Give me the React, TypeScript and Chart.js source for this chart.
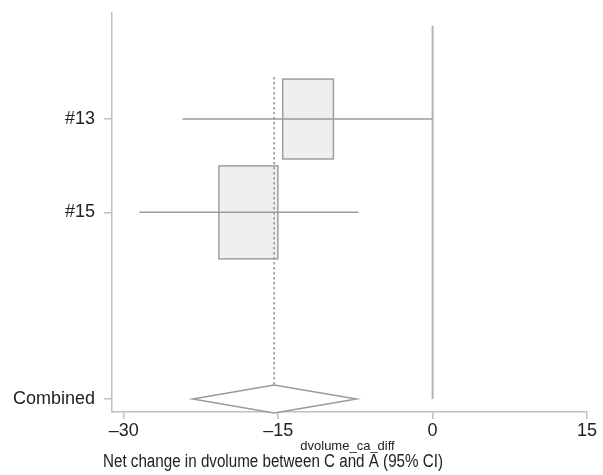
import React, { useEffect, useRef } from "react";
import { Chart, registerables } from "chart.js";

Chart.register(...registerables);

const studyLabels = ["#13", "#15"];
const estimates = [-12.1, -17.9];
const ciLower = [-24.3, -28.5];
const ciUpper = [0.0, -7.2];
const weights = [42.5, 57.5];
const combinedLabel = "Combined";
const combinedEstimate = -15.4;
const combinedLower = -23.3;
const combinedUpper = -7.4;
const xTickValues = [-30, -15, 0, 15];
const xAxisTitle = "dvolume_ca_diff";
const caption = "Net change in dvolume between C and A (95% CI)";

const FONT = "'Liberation Sans', Arial, Helvetica, sans-serif";

export default function App() {
  const ref = useRef<HTMLCanvasElement | null>(null);

  useEffect(() => {
    if (!ref.current) return;
    const studyRows = studyLabels.map((_, i) => i + 1);
    const combinedRow = studyLabels.length + 2;
    const rowLabels: Record<number, string> = {};
    studyRows.forEach((r, i) => (rowLabels[r] = studyLabels[i]));
    rowLabels[combinedRow] = combinedLabel;

    const forestPlugin = {
      id: "forest",
      afterDatasetsDraw(chart: any) {
        const { ctx } = chart;
        const xs = chart.scales.x;
        const ys = chart.scales.y;
        ctx.save();
        // zero line
        ctx.strokeStyle = "#b4b4b4";
        ctx.lineWidth = 2;
        ctx.beginPath();
        ctx.moveTo(xs.getPixelForValue(0), ys.getPixelForValue(0));
        ctx.lineTo(xs.getPixelForValue(0), ys.getPixelForValue(combinedRow));
        ctx.stroke();

        // boxes fill
        studyRows.forEach((r, i) => {
          const cx = xs.getPixelForValue(estimates[i]);
          const cy = ys.getPixelForValue(r);
          const w = 7.78 * Math.sqrt(weights[i]);
          const h = 12.26 * Math.sqrt(weights[i]);
          ctx.fillStyle = "#efefef";
          ctx.fillRect(cx - w / 2, cy - h / 2, w, h);
        });

        // dashed overall line
        const dx = xs.getPixelForValue(combinedEstimate);
        ctx.strokeStyle = "#858585";
        ctx.lineWidth = 1.3;
        ctx.setLineDash([2.5, 2.5]);
        ctx.beginPath();
        ctx.moveTo(dx, ys.getPixelForValue(0.55));
        ctx.lineTo(dx, ys.getPixelForValue(combinedRow) - 14);
        ctx.stroke();
        ctx.setLineDash([]);

        // CI lines
        ctx.strokeStyle = "#9a9a9a";
        ctx.lineWidth = 1.5;
        studyRows.forEach((r, i) => {
          const cy = ys.getPixelForValue(r);
          ctx.beginPath();
          ctx.moveTo(xs.getPixelForValue(ciLower[i]), cy);
          ctx.lineTo(xs.getPixelForValue(ciUpper[i]), cy);
          ctx.stroke();
        });

        // box borders
        ctx.strokeStyle = "#a0a0a0";
        ctx.lineWidth = 1.5;
        studyRows.forEach((r, i) => {
          const cx = xs.getPixelForValue(estimates[i]);
          const cy = ys.getPixelForValue(r);
          const w = 7.78 * Math.sqrt(weights[i]);
          const h = 12.26 * Math.sqrt(weights[i]);
          ctx.strokeRect(cx - w / 2, cy - h / 2, w, h);
        });

        // diamond
        const cy = ys.getPixelForValue(combinedRow);
        ctx.fillStyle = "#ffffff";
        ctx.strokeStyle = "#9a9a9a";
        ctx.lineWidth = 1.5;
        ctx.beginPath();
        ctx.moveTo(xs.getPixelForValue(combinedLower), cy);
        ctx.lineTo(dx, cy - 14);
        ctx.lineTo(xs.getPixelForValue(combinedUpper), cy);
        ctx.lineTo(dx, cy + 14);
        ctx.closePath();
        ctx.fill();
        ctx.stroke();
        ctx.restore();
      },
      afterDraw(chart: any) {
        const { ctx } = chart;
        const xs = chart.scales.x;
        ctx.save();
        ctx.fillStyle = "#222222";
        ctx.textAlign = "center";
        ctx.textBaseline = "alphabetic";
        ctx.font = `13px ${FONT}`;
        ctx.fillText(xAxisTitle, (xs.left + xs.right) / 2 - 2, 450);
        ctx.textAlign = "left";
        ctx.font = `18px ${FONT}`;
        ctx.fillText(caption, 103, 467, 340);
        ctx.restore();
      },
    };

    const chart = new Chart(ref.current, {
      type: "scatter",
      data: {
        datasets: [
          {
            data: studyRows.map((r, i) => ({ x: estimates[i], y: r })),
            pointRadius: 0,
            showLine: false,
          },
        ],
      },
      options: {
        animation: false,
        responsive: false,
        events: [],
        layout: { padding: { top: 13, right: 16, left: 0, bottom: 0 } },
        plugins: { legend: { display: false }, tooltip: { enabled: false } },
        scales: {
          x: {
            type: "linear",
            min: -31.15,
            max: 15,
            afterBuildTicks: (s: any) => {
              s.ticks = xTickValues.map((v) => ({ value: v }));
            },
            afterFit: (s: any) => {
              s.height = 63;
              s.paddingLeft = 0;
              s.paddingRight = 0;
            },
            ticks: {
              callback: (v: any) => (Number(v) < 0 ? "\u2013" + Math.abs(Number(v)) : String(v)),
              font: { size: 18, family: FONT },
              color: "#222222",
              padding: 1,
              maxRotation: 0,
              autoSkip: false,
            },
            grid: {
              drawOnChartArea: false,
              drawTicks: true,
              tickLength: 7,
              color: "#c0c0c0",
              lineWidth: 1.5,
            },
            border: { display: true, color: "#c0c0c0", width: 1.5 },
          },
          y: {
            type: "linear",
            reverse: true,
            min: -0.136,
            max: 4.139,
            afterBuildTicks: (s: any) => {
              s.ticks = Object.keys(rowLabels).map((k) => ({ value: Number(k) }));
            },
            afterFit: (s: any) => {
              s.width = 112;
              s.paddingTop = 0;
              s.paddingBottom = 0;
            },
            ticks: {
              callback: (v: any) => rowLabels[Number(v)] ?? "",
              font: { size: 18, family: FONT },
              color: "#222222",
              padding: 9,
              autoSkip: false,
            },
            grid: {
              drawOnChartArea: false,
              drawTicks: true,
              tickLength: 8,
              color: "#c0c0c0",
              lineWidth: 1.5,
            },
            border: { display: true, color: "#c0c0c0", width: 1.5 },
          },
        },
      },
      plugins: [forestPlugin],
    } as any);
    return () => chart.destroy();
  }, []);

  return (
    <div style={{ position: "absolute", left: 0, top: 0, width: 603, height: 475, background: "#fff" }}>
      <canvas ref={ref} width={603} height={475} style={{ width: 603, height: 475, display: "block" }} />
    </div>
  );
}
